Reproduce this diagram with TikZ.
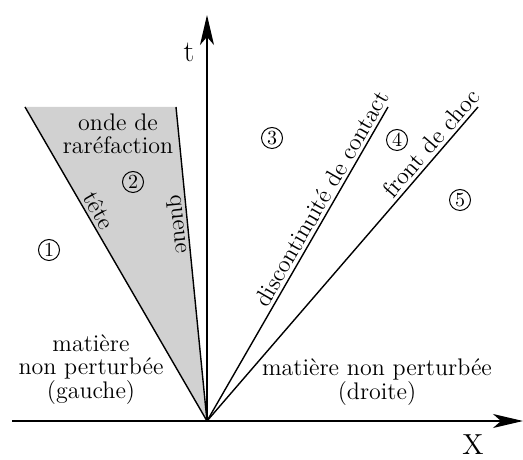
\documentclass[tikz,border=0pt]{standalone}
\usetikzlibrary{arrows.meta}
\begin{document}
\begin{tikzpicture}[x=0.5pt,y=0.5pt,
  axis/.style={line width=0.7pt,-{Stealth[length=15pt,width=7pt,inset=4pt]}},
  wave/.style={line width=0.7pt},
  lbl/.style={font=\fontsize{12}{11.3}\selectfont,inner sep=1pt,align=center},
  slbl/.style={font=\fontsize{12}{11.3}\selectfont,inner sep=1.5pt,sloped},
  axlbl/.style={font=\fontsize{15}{15}\selectfont,inner sep=0pt},
  zone/.style={circle,draw,line width=0.5pt,minimum size=10.5pt,inner sep=0pt,font=\fontsize{10}{10}\selectfont}]
\useasboundingbox (0,0) rectangle (523,459);
\coordinate (O) at (207,38);
\coordinate (xs) at (12,38);
\coordinate (xe) at (523,38);
\coordinate (te) at (207,444);
\coordinate (rl) at (25,352);
\coordinate (rr) at (176,352);
\coordinate (ct) at (388,352);
\coordinate (sh) at (478,352);
% rarefaction fan
\fill[black!18] (O) -- (rl) -- (rr) -- cycle;
\draw[wave] (rl) -- (O) node[slbl,above,pos=0.35] (tete) {tête};
\draw[wave] (rr) -- (O) node[slbl,below,pos=0.37] (queue) {queue};
\draw[wave] (O) -- (ct) node[slbl,above,pos=0.69] (disc) {discontinuité de contact};
\draw[wave] (O) -- (sh) node[slbl,above,pos=0.86] (choc) {front de choc};
% axes
\draw[axis] (xs) -- (xe);
\draw[axis] (O) -- (te);
\node[axlbl] (tl) at (189,407) {t};
\node[axlbl,anchor=north,font=\fontsize{14.5}{15}\selectfont] (xl) at (473,25) {X};
% zones
\node[zone] (z1) at (49,209) {1};
\node[zone] (z2) at (133,277) {2};
\node[zone] (z3) at (272,321) {3};
\node[zone] (z4) at (397,319) {4};
\node[zone] (z5) at (460,259) {5};
% labels
\node[lbl] (onde) at (118,325) {onde de\\raréfaction};
\node[lbl] (gauche) at (91,89) {matière\\non perturbée\\(gauche)};
\node[lbl] (droite) at (377,77) {matière non perturbée\\(droite)};
\end{tikzpicture}
\end{document}
